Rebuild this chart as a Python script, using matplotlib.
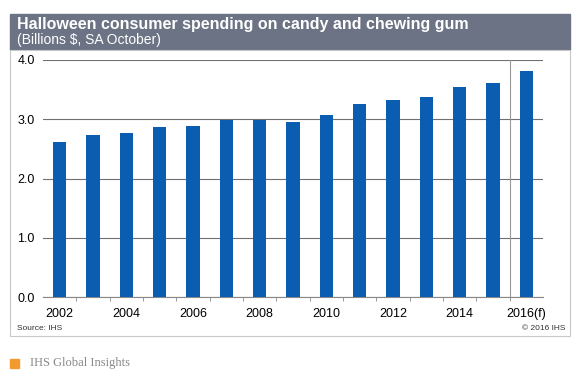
import matplotlib.pyplot as plt
from matplotlib.patches import Rectangle

years = [2002, 2003, 2004, 2005, 2006, 2007, 2008, 2009, 2010, 2011, 2012, 2013, 2014, 2015, 2016]
spending = [2.62, 2.74, 2.77, 2.87, 2.89, 2.99, 2.98, 2.96, 3.07, 3.25, 3.32, 3.38, 3.55, 3.61, 3.81]
tick_years = [2002, 2004, 2006, 2008, 2010, 2012, 2014, 2016]
tick_labels = ['2002', '2004', '2006', '2008', '2010', '2012', '2014', '2016(f)']
y_ticks = [0, 1, 2, 3, 4]

plt.rcParams['font.family'] = ['Liberation Sans', 'DejaVu Sans']

fig = plt.figure(figsize=(5.81, 3.88), dpi=100)
W, H = 581, 388

# header bar + chart frame
fig.patches.append(Rectangle((10 / W, 1 - 50 / H), 560 / W, 36 / H, transform=fig.transFigure,
                             color='#6b7384', zorder=0))
fig.patches.append(Rectangle((10 / W, 1 - 336 / H), 560 / W, 286 / H, transform=fig.transFigure,
                             facecolor='white', edgecolor='#c8c8c8', lw=0.8, zorder=0))
fig.text(17 / W, 1 - 24 / H, 'Halloween consumer spending on candy and chewing gum',
         color='white', fontsize=11.5, fontweight='bold', va='center')
fig.text(17 / W, 1 - 40 / H, '(Billions $, SA October)', color='white', fontsize=10, va='center')

ax = fig.add_axes([43 / W, 1 - 297 / H, 500 / W, 237 / H])
ax.set_zorder(5)
ax.patch.set_alpha(0)
ax.bar(years, spending, width=0.4, color='#0a5db0', zorder=3)
ax.set_xlim(2001.5, 2016.5)
ax.set_ylim(0, 4)
ax.set_yticks(y_ticks)
ax.set_yticklabels([f'{v:.1f}' for v in y_ticks], fontsize=9)
ax.set_xticks(tick_years)
ax.set_xticklabels(tick_labels, fontsize=9)
ax.set_xticks([y + 0.5 for y in years[:-1]], minor=True)
ax.tick_params(axis='x', which='major', length=0, pad=8)
ax.tick_params(axis='x', which='minor', length=3, color='#888888')
ax.tick_params(axis='y', length=0, pad=6)
for s in ['left', 'right', 'top']:
    ax.spines[s].set_visible(False)
ax.spines['bottom'].set_color('#888888')
ax.spines['bottom'].set_linewidth(0.8)
ax.grid(axis='y', color='#707070', lw=0.8, zorder=1)
ax.axvline(2015.5, color='#999999', lw=0.8, zorder=2)

fig.text(17 / W, 1 - 328 / H, 'Source: IHS', fontsize=6, color='#333333', va='center')
fig.text(565 / W, 1 - 328 / H, '© 2016 IHS', fontsize=6, color='#333333', va='center', ha='right')

fig.patches.append(Rectangle((10 / W, 1 - 368 / H), 9 / W, 9 / H, transform=fig.transFigure,
                             color='#f39a2e'))
fig.text(30 / W, 1 - 363 / H, 'IHS Global Insights', fontsize=9, color='#888888',
         family=['Liberation Serif', 'DejaVu Serif'], va='center')

fig.savefig('out.png', dpi=100)
